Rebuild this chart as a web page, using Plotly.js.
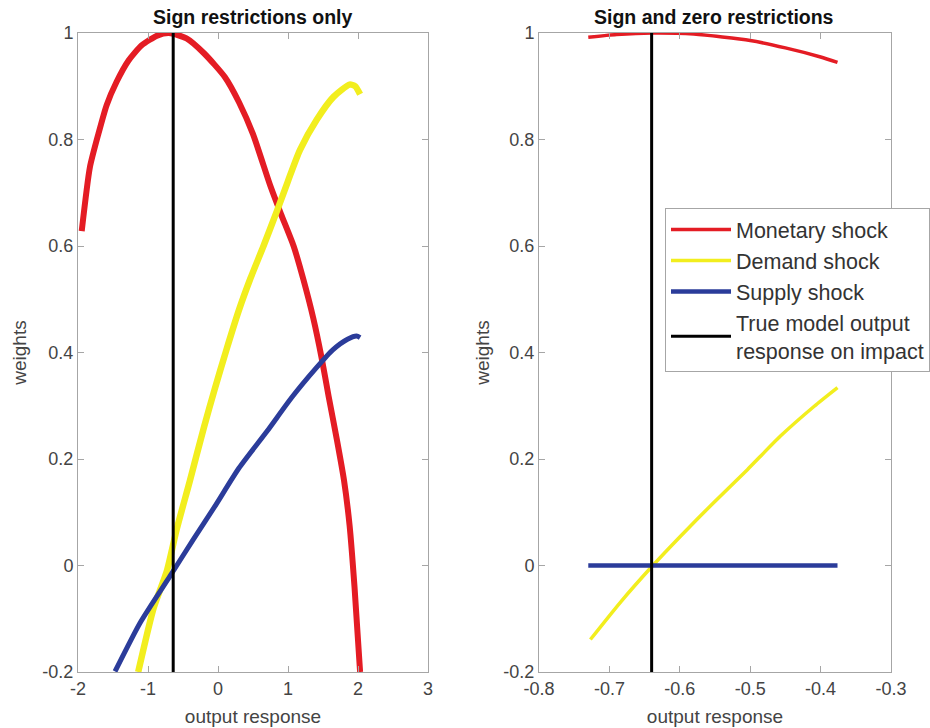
<!DOCTYPE html>
<html>
<head>
<meta charset="utf-8">
<script src="https://cdn.plot.ly/plotly-3.0.1.min.js"></script>
<style>html,body{margin:0;padding:0;background:#fff;}#chart{width:930px;height:728px;}</style>
</head>
<body>
<div id="chart"></div>
<script>
// ---- Data ----
const seriesNames = ["Monetary shock", "Demand shock", "Supply shock", "True model output<br>response on impact"];
const panelTitles = ["Sign restrictions only", "Sign and zero restrictions"];

// Left panel: sign restrictions only
const signMonetaryX = [-1.947,-1.83,-1.71,-1.59,-1.45,-1.28,-1.09,-0.87,-0.7,-0.45,-0.2,0.1,0.3,0.5,0.75,0.9,1.08,1.22,1.36,1.48,1.58,1.7,1.8,1.88,1.95,2.03];
const signMonetaryY = [0.628,0.748,0.81,0.865,0.908,0.948,0.977,0.995,1.0,0.99,0.962,0.917,0.87,0.81,0.712,0.66,0.60,0.537,0.465,0.39,0.318,0.235,0.16,0.075,-0.04,-0.2];
const signDemandX = [-1.14,-0.92,-0.73,-0.59,-0.4,-0.2,-0.05,0.12,0.3,0.46,0.65,0.84,1.0,1.17,1.41,1.65,1.88,1.96,2.03];
const signDemandY = [-0.2,-0.08,-0.01,0.068,0.16,0.26,0.33,0.405,0.48,0.538,0.60,0.665,0.722,0.78,0.837,0.88,0.903,0.9,0.885];
const signSupplyX = [-1.471,-1.114,-0.686,-0.352,-0.05,0.3,0.7,1.05,1.41,1.64,1.85,1.98,2.03];
const signSupplyY = [-0.199,-0.108,-0.02,0.049,0.11,0.183,0.252,0.315,0.372,0.405,0.425,0.431,0.428];

// Right panel: sign and zero restrictions
const zeroMonetaryX = [-0.73,-0.69,-0.64,-0.58,-0.5,-0.45,-0.4,-0.376];
const zeroMonetaryY = [0.992,0.997,1.0,0.998,0.986,0.972,0.955,0.945];
const zeroDemandX = [-0.727,-0.685,-0.639,-0.599,-0.552,-0.504,-0.457,-0.409,-0.376];
const zeroDemandY = [-0.139,-0.07,-0.001,0.055,0.118,0.18,0.243,0.299,0.334];
const zeroSupplyX = [-0.73,-0.376];
const zeroSupplyY = [0.0,0.0];

// True model output response on impact
const trueResponse = -0.64;
const weightRange = [-0.2, 1];

// Tick labels
const yTickVals = [-0.2,0,0.2,0.4,0.6,0.8,1];
const yTickText = ["-0.2","0","0.2","0.4","0.6","0.8","1"];
const x1TickVals = [-2,-1,0,1,2,3];
const x1TickText = ["-2","-1","0","1","2","3"];
const x2TickVals = [-0.8,-0.7,-0.6,-0.5,-0.4,-0.3];
const x2TickText = ["-0.8","-0.7","-0.6","-0.5","-0.4","-0.3"];

// ---- Styling ----
const RED = "#e41c24", YELLOW = "#f2ee1e", BLUE = "#2b3c9a", BLACK = "#000000";
const FONT = "Liberation Sans, Arial, Helvetica, sans-serif";

function line(x, y, color, width, name, axis, show) {
  return {x: x, y: y, type: "scatter", mode: "lines", name: name,
    line: {color: color, width: width, shape: "spline", smoothing: 0.6},
    xaxis: axis[0], yaxis: axis[1], showlegend: show, hoverinfo: "skip"};
}

const traces = [
  line(signMonetaryX, signMonetaryY, RED, 6, seriesNames[0], ["x","y"], false),
  line(signDemandX, signDemandY, YELLOW, 6.5, seriesNames[1], ["x","y"], false),
  line(signSupplyX, signSupplyY, BLUE, 5, seriesNames[2], ["x","y"], false),
  line([trueResponse, trueResponse], weightRange, BLACK, 3, seriesNames[3], ["x","y"], false),
  line(zeroMonetaryX, zeroMonetaryY, RED, 3.5, seriesNames[0], ["x2","y2"], true),
  line(zeroDemandX, zeroDemandY, YELLOW, 3.5, seriesNames[1], ["x2","y2"], true),
  line(zeroSupplyX, zeroSupplyY, BLUE, 4.5, seriesNames[2], ["x2","y2"], true),
  line([trueResponse, trueResponse], weightRange, BLACK, 3, seriesNames[3], ["x2","y2"], true)
];

const axBase = {
  showline: true, linecolor: "#a6a6a6", linewidth: 1, mirror: "ticks",
  ticks: "inside", ticklen: 6, tickcolor: "#a6a6a6", tickwidth: 1,
  showgrid: false, zeroline: false, tickmode: "array",
  tickfont: {family: FONT, size: 18, color: "#444"},
  fixedrange: true
};

const yDom = [1 - 672/728, 1 - 33/728];
const axTitleFont = {family: FONT, size: 19, color: "#444"};

const layout = {
  width: 930, height: 728,
  margin: {l: 0, r: 0, t: 0, b: 0},
  paper_bgcolor: "#fff", plot_bgcolor: "#fff",
  font: {family: FONT, color: "#444"},
  xaxis: Object.assign({}, axBase, {domain: [78/930, 428/930], range: [-2, 3],
    tickvals: x1TickVals, ticktext: x1TickText, anchor: "y",
    title: {text: "output response", font: axTitleFont, standoff: 12}}),
  yaxis: Object.assign({}, axBase, {domain: yDom, range: weightRange,
    tickvals: yTickVals, ticktext: yTickText, anchor: "x",
    title: {text: "weights", font: axTitleFont, standoff: 10}}),
  xaxis2: Object.assign({}, axBase, {domain: [539/930, 891/930], range: [-0.8, -0.3],
    tickvals: x2TickVals, ticktext: x2TickText, anchor: "y2",
    title: {text: "output response", font: axTitleFont, standoff: 12}}),
  yaxis2: Object.assign({}, axBase, {domain: yDom, range: weightRange,
    tickvals: yTickVals, ticktext: yTickText, anchor: "x2",
    title: {text: "weights", font: axTitleFont, standoff: 8}}),
  showlegend: true,
  legend: {
    x: 665/930, xanchor: "left", y: 1 - 208/728, yanchor: "top",
    bgcolor: "#fff", bordercolor: "#a6a6a6", borderwidth: 1,
    font: {family: FONT, size: 21.5, color: "#333"},
    itemwidth: 60, valign: "middle", tracegroupgap: 0
  },
  annotations: [
    {text: "<b>" + panelTitles[0] + "</b>", xref: "paper", yref: "paper",
     x: 253/930, y: 1 - 17/728, xanchor: "center", yanchor: "middle", showarrow: false,
     font: {family: FONT, size: 19.5, color: "#111"}},
    {text: "<b>" + panelTitles[1] + "</b>", xref: "paper", yref: "paper",
     x: 714/930, y: 1 - 17/728, xanchor: "center", yanchor: "middle", showarrow: false,
     font: {family: FONT, size: 19.5, color: "#111"}}
  ]
};

Plotly.newPlot("chart", traces, layout, {displayModeBar: false, staticPlot: true});
</script>
</body>
</html>
